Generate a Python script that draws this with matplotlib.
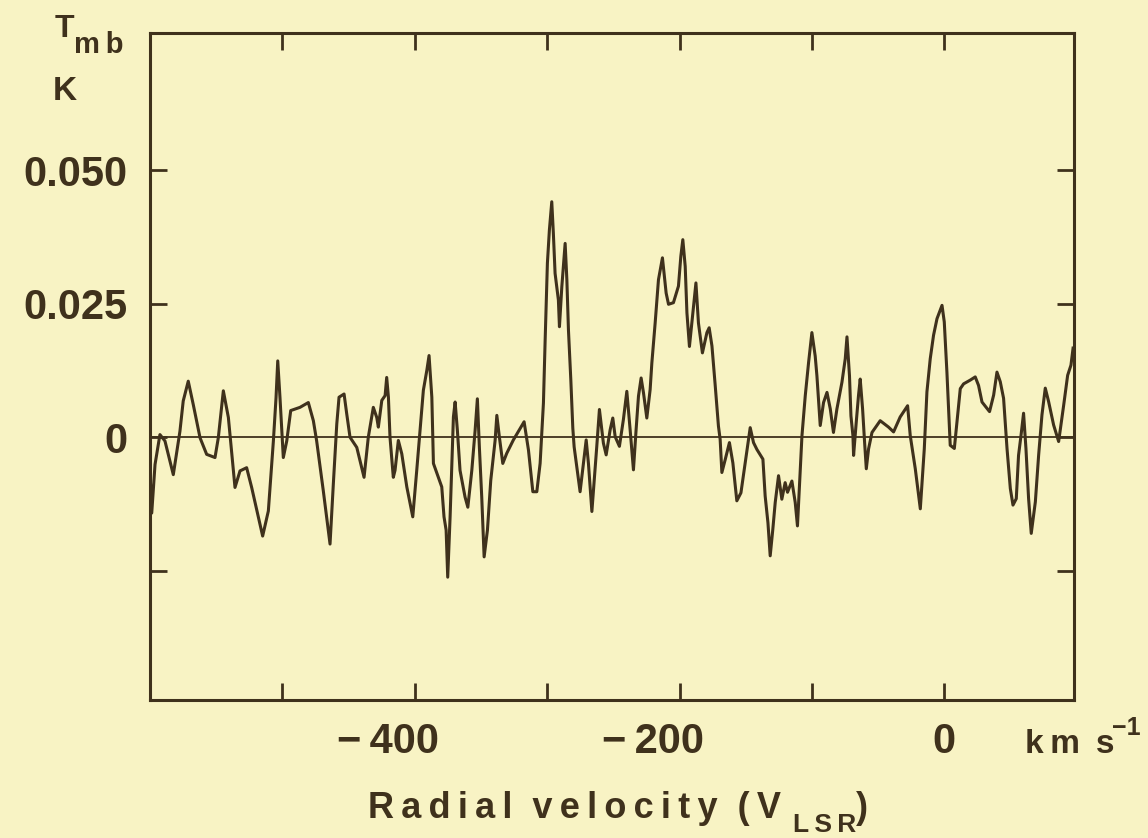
import numpy as np
import matplotlib
matplotlib.use("Agg")
import matplotlib.pyplot as plt
import matplotlib.transforms as mtransforms

## spectrum (velocity in km/s, T_mb in mK)
vel = [-600.0, -598.7, -596.2, -592.5, -588.7, -582.4, -577.4, -574.9, -571.1, -567.3,
       -562.2, -557.2, -550.9, -548.4, -544.6, -540.8, -535.8, -532.0, -527.0, -523.2,
       -516.9, -514.9, -510.6, -506.8, -504.8, -503.5, -501.8, -499.3, -496.7, -493.7,
       -486.7, -480.4, -476.6, -474.1, -469.1, -464.0, -461.5, -458.9, -457.2, -453.4,
       -451.4, -448.9, -443.8, -438.3, -435.1, -431.3, -428.7, -427.5, -424.9, -422.4,
       -421.2, -419.9, -418.7, -416.2, -414.9, -412.4, -409.8, -406.0, -401.5, -398.5,
       -396.0, -393.5, -390.9, -389.2, -387.1, -385.9, -382.2, -379.6, -377.9, -376.3,
       -375.1, -373.3, -372.0, -370.8, -369.5, -367.8, -365.8, -362.0, -359.9, -356.9,
       -354.4, -352.7, -351.2, -349.4, -347.6, -345.1, -342.6, -339.3, -338.0, -336.1,
       -333.5, -330.5, -325.5, -317.4, -314.1, -310.8, -307.8, -305.3, -302.8, -301.5,
       -299.8, -298.3, -296.5, -295.3, -294.0, -291.5, -290.7, -288.9, -286.4, -285.1,
       -283.9, -282.1, -280.6, -279.6, -275.1, -272.6, -270.5, -268.8, -266.2, -262.5,
       -260.5, -257.5, -255.4, -252.4, -250.4, -248.6, -245.4, -242.4, -239.8, -237.3,
       -234.8, -232.8, -231.0, -229.0, -227.2, -224.7, -222.2, -220.9, -218.4, -215.9,
       -212.9, -210.1, -208.3, -204.6, -200.8, -199.0, -197.5, -195.7, -194.4, -192.5,
       -189.9, -187.6, -185.7, -182.7, -179.3, -177.6, -175.5, -173.1, -170.6, -169.3,
       -168.0, -165.5, -162.3, -159.7, -156.7, -153.6, -150.4, -146.6, -144.1, -141.5,
       -137.0, -135.3, -133.2, -131.5, -129.5, -127.7, -125.2, -122.7, -120.2, -118.4,
       -115.1, -112.6, -110.9, -108.8, -107.5, -105.0, -102.5, -100.0, -97.5, -96.2,
       -93.7, -91.2, -88.6, -86.1, -83.7, -81.1, -77.3, -74.8, -73.5, -71.6,
       -70.5, -69.0, -68.5, -66.5, -64.8, -63.5, -61.7, -60.2, -58.9, -57.2,
       -54.6, -48.4, -42.1, -38.3, -33.3, -27.7, -25.7, -21.9, -18.1, -15.1,
       -13.1, -10.6, -8.1, -5.5, -1.7, 0.0, 2.0, 3.2, 4.5, 7.6,
       9.6, 12.1, 14.6, 19.6, 23.4, 25.9, 28.5, 34.2, 37.3, 39.8,
       42.3, 44.8, 47.4, 49.9, 51.9, 54.4, 56.1, 58.0, 59.9, 61.7,
       63.7, 65.7, 68.8, 71.3, 73.8, 76.3, 78.8, 82.6, 86.4, 90.2,
       93.2, 95.7, 97.3]

tmb_mK = [-6.4, -14.2, -5.1, 0.5, -0.7, -7.0, 1.1, 6.8, 10.5, 6.1,
          -0.1, -3.2, -3.8, -0.1, 8.7, 3.7, -9.4, -6.3, -5.7, -9.4,
          -16.3, -18.5, -13.8, -0.7, 7.4, 14.3, 7.4, -3.8, -0.7, 5.0,
          5.6, 6.5, 3.1, -0.7, -10.0, -20.0, -8.7, 2.5, 7.5, 8.1,
          4.4, 0.0, -1.9, -7.5, 0.0, 5.6, 3.7, 1.9, 6.9, 7.8,
          11.2, 7.5, 0.0, -7.5, -6.2, -0.6, -3.1, -9.3, -14.9, -6.2,
          1.3, 8.8, 12.5, 15.3, 7.5, -4.9, -7.5, -9.3, -14.9, -17.4,
          -26.2, -14.9, -4.9, 3.8, 6.6, 1.3, -6.2, -11.2, -13.1, -6.2,
          1.3, 7.2, -1.8, -11.2, -22.4, -17.4, -8.1, -0.6, 4.1, 0.1,
          -4.9, -3.0, -0.5, 2.9, -2.4, -10.2, -10.2, -4.9, 6.4, 18.2,
          32.6, 38.8, 44.1, 38.2, 30.7, 25.7, 20.7, 28.2, 36.3, 29.5,
          20.1, 10.7, 1.7, -1.8, -10.2, -4.9, -0.5, -4.9, -13.9, -1.7,
          5.2, -1.1, -3.3, 1.4, 3.6, 0.1, -1.7, 3.3, 8.6, 1.4,
          -6.1, 1.4, 7.7, 11.1, 8.3, 3.6, 8.9, 13.9, 21.4, 29.5,
          33.6, 27.0, 24.9, 25.2, 28.3, 33.9, 37.0, 32.0, 23.3, 17.0,
          23.3, 28.9, 21.4, 15.8, 19.6, 20.5, 17.1, 9.9, 2.1, -0.4,
          -6.6, -4.2, -1.0, -4.8, -11.9, -10.4, -4.8, 1.8, -1.0, -2.3,
          -4.1, -11.0, -16.0, -22.2, -17.2, -12.2, -7.2, -11.6, -8.5, -10.3,
          -8.2, -12.2, -16.6, -6.0, 0.3, 7.8, 14.0, 19.6, 15.2, 11.5,
          2.2, 6.5, 8.4, 5.3, 0.9, 5.3, 10.3, 14.7, 18.8, 11.5,
          4.0, 0.3, -3.4, 2.8, 7.8, 10.9, 5.3, -0.9, -5.9, -2.2,
          0.9, 3.1, 1.9, 1.0, 3.8, 5.9, 0.3, -5.9, -13.4, -2.2,
          8.5, 14.7, 19.1, 22.2, 24.7, 21.6, 12.2, 5.4, -1.5, -2.1,
          2.9, 9.1, 10.0, 10.7, 11.3, 9.7, 6.6, 4.8, 7.9, 12.2,
          10.4, 7.3, -2.1, -9.6, -12.7, -11.5, -3.4, 0.4, 4.5, -2.1,
          -11.5, -18.0, -12.1, -3.3, 4.2, 9.2, 6.7, 2.3, -0.8, 6.0,
          11.6, 13.5, 16.7]

xticks = [-500, -400, -300, -200, -100, 0]
xticklabels = ["", "\u2212\u2009400", "", "\u2212\u2009200", "", "0"]
yticks = [-0.025, 0.0, 0.025, 0.05]
yticklabels = ["", "0", "0.025", "0.050"]

tmb = np.array(tmb_mK) / 1000.0

BG = "#f8f3c4"
INK = "#3f311c"
FAM = ["Liberation Sans", "DejaVu Sans"]
W, H = 1148, 838

fig = plt.figure(figsize=(W / 100, H / 100), dpi=100)
fig.patch.set_facecolor(BG)
ax = fig.add_axes([150 / W, 1 - 700 / H, 924 / W, 667 / H])
ax.set_facecolor(BG)

ax.plot(vel, tmb, color=INK, lw=2.2, solid_joinstyle="round")
ax.axhline(0, color=INK, lw=1.3)

ax.set_xlim(-600, 98)
ax.set_ylim(-0.0492, 0.0757)

for sp in ax.spines.values():
    sp.set_linewidth(2.2)
    sp.set_color(INK)

ax.set_xticks(xticks)
ax.set_xticklabels(xticklabels, fontsize=30, fontweight="bold", family=FAM, color=INK)
ax.set_yticks(yticks)
ax.set_yticklabels(yticklabels, fontsize=30, fontweight="bold", family=FAM, color=INK)
ax.tick_params(direction="in", length=12, width=2, color=INK,
               top=True, right=True, pad=16)

# minus-sign labels sit a bit left of their tick
shift = mtransforms.ScaledTranslation(-0.27, 0, fig.dpi_scale_trans)
for lab in ax.get_xticklabels():
    if lab.get_text().startswith("\u2212"):
        lab.set_transform(lab.get_transform() + shift)


def ptext(x, y, s, size):
    fig.text(x / W, 1 - y / H, s, fontsize=size, fontweight="bold",
             family=FAM, color=INK, ha="left", va="baseline")


def spaced(s):
    return "\u2009".join(s).replace("\u2009 \u2009", "  ")


# y axis unit
ptext(55, 37, "T", 23)
ptext(74, 53, "m\u2009b", 21)
ptext(53, 100, "K", 24)

# x axis unit
ptext(1025, 753, "k\u2009m\u2009 s", 24)
ptext(1112, 735, "\u22121", 18)

# x axis title
ptext(368, 818, spaced("Radial velocity (V"), 26)
ptext(793, 832, "L\u2009S\u2009R", 19)
ptext(856, 818, ")", 26)

fig.savefig("out.png", dpi=100, facecolor=BG)
